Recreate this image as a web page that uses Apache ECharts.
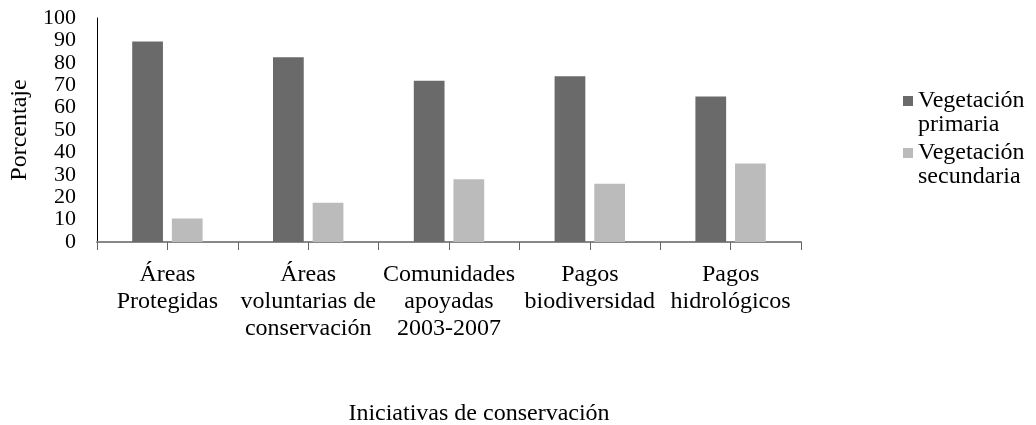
<!DOCTYPE html>
<html>
<head>
<meta charset="utf-8">
<script src="https://cdn.jsdelivr.net/npm/echarts@6/dist/echarts.min.js"></script>
<style>html,body{margin:0;padding:0;background:#fff}#c{width:1036px;height:425px}</style>
</head>
<body>
<div id="c"></div>
<script>
const categories = ['Áreas\nProtegidas', 'Áreas\nvoluntarias de\nconservación', 'Comunidades\napoyadas\n2003-2007', 'Pagos\nbiodiversidad', 'Pagos\nhidrológicos'];
const seriesNames = ['Vegetación\nprimaria', 'Vegetación\nsecundaria'];
const primaria = [89.5, 82.5, 72, 74, 65];
const secundaria = [10.5, 17.5, 28, 26, 35];
const yTicks = { min: 0, max: 100, interval: 10 };

const FONT = 'Liberation Serif';
const chart = echarts.init(document.getElementById('c'));
chart.setOption({
  animation: false,
  textStyle: { fontFamily: FONT, color: '#000' },
  grid: { left: 97, right: 235, top: 18, bottom: 183, containLabel: false, outerBoundsMode: 'none' },
  legend: {
    orient: 'vertical', left: 903, top: 65, padding: 0,
    itemWidth: 10, itemHeight: 10, itemGap: -20,
    icon: 'rect',
    formatter: function (n) { return ' \n' + n; },
    textStyle: { fontFamily: FONT, fontSize: 24, lineHeight: 24, color: '#000' },
    data: seriesNames
  },
  xAxis: [{
    type: 'category', data: categories,
    axisLine: { lineStyle: { color: '#888', width: 2 } },
    axisTick: { show: false },
    axisLabel: { fontFamily: FONT, fontSize: 24, lineHeight: 27, color: '#000', margin: 19, interval: 0, hideOverlap: false },
    name: 'Iniciativas de conservación', nameLocation: 'middle', nameGap: 160,
    nameTextStyle: { fontFamily: FONT, fontSize: 24, color: '#000', padding: [0, 0, 0, 60], verticalAlign: 'top' }
  }, {
    type: 'value', min: 0, max: 10, interval: 1, position: 'bottom',
    axisLine: { show: false }, axisLabel: { show: false }, splitLine: { show: false },
    axisTick: { show: true, length: 8, lineStyle: { color: '#666', width: 1 } }
  }],
  yAxis: {
    type: 'value', min: yTicks.min, max: yTicks.max, interval: yTicks.interval,
    axisLine: { show: true, lineStyle: { color: '#000', width: 1 } },
    axisTick: { show: false }, splitLine: { show: false },
    axisLabel: { fontFamily: FONT, fontSize: 22, color: '#000', margin: 21, showMinLabel: true, showMaxLabel: true, hideOverlap: false },
    name: 'Porcentaje', nameLocation: 'middle', nameGap: 58,
    nameTextStyle: { fontFamily: FONT, fontSize: 24, color: '#000' }
  },
  series: [
    { name: seriesNames[0], type: 'bar', data: primaria, itemStyle: { color: '#6a6a6a' }, barGap: '29%', barCategoryGap: '50%' },
    { name: seriesNames[1], type: 'bar', data: secundaria, itemStyle: { color: '#bbbbbb' } }
  ]
});
</script>
</body>
</html>
